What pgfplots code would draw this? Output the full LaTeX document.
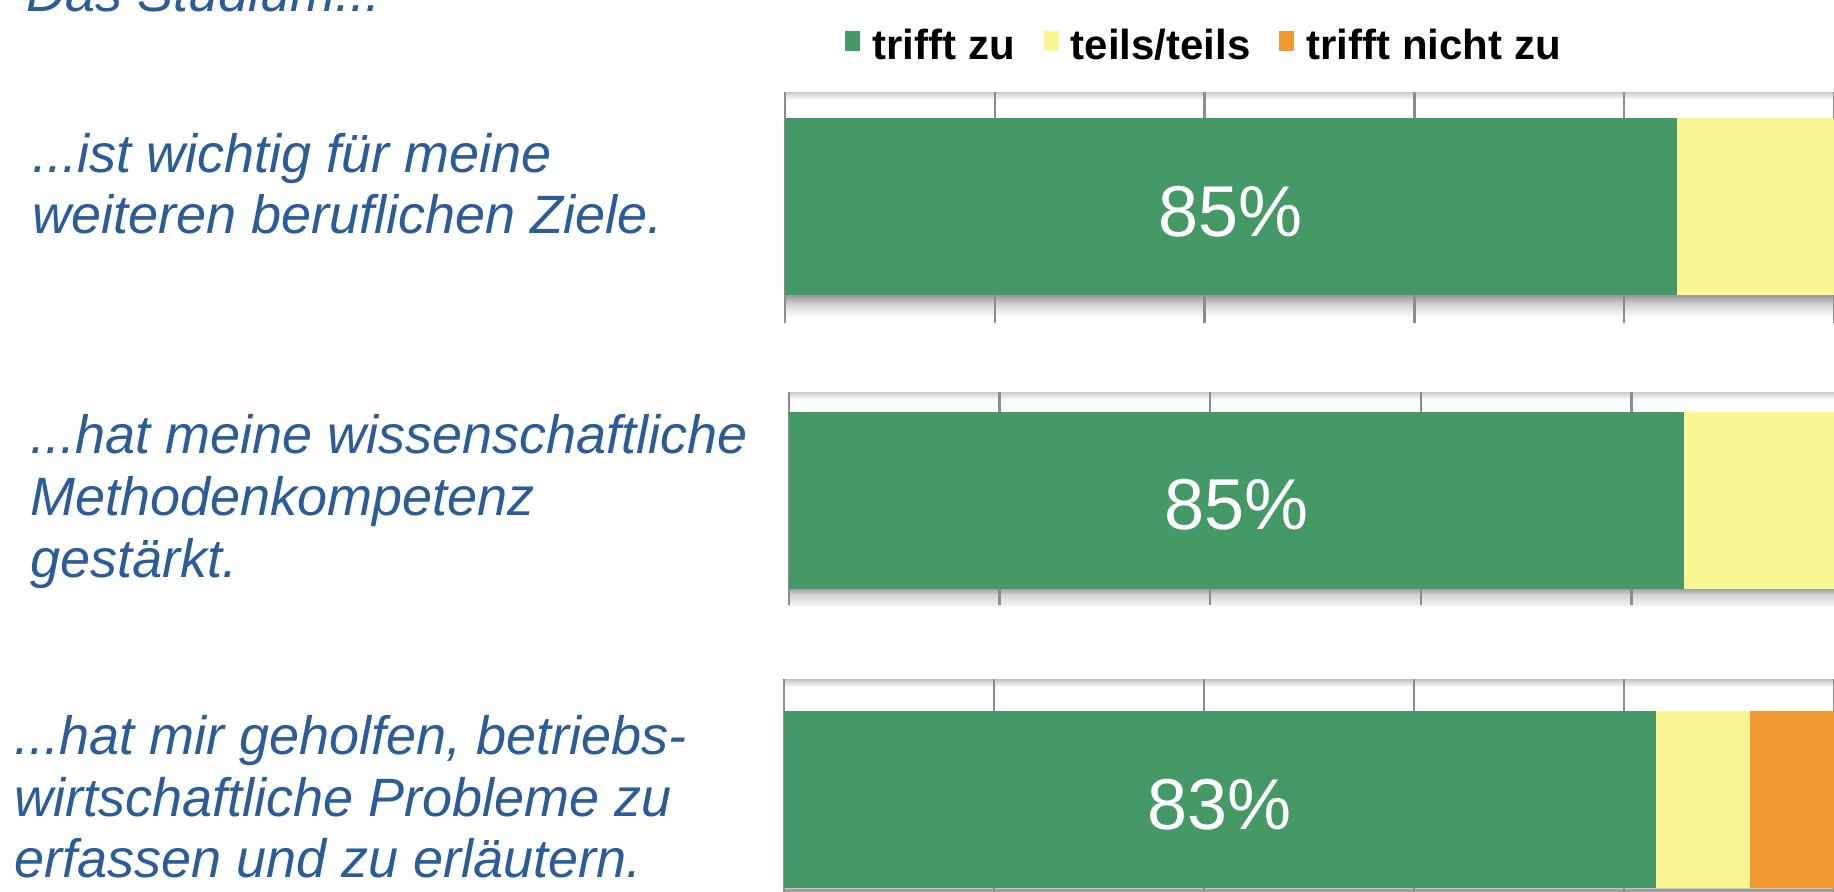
\documentclass[border=0pt]{standalone}
\usepackage{fontspec}
\setmainfont{Liberation Sans}
\usepackage{pgfplots}
\pgfplotsset{compat=1.18}
\definecolor{cgreen}{RGB}{69,153,102}
\definecolor{cyellow}{RGB}{250,246,148}
\definecolor{corange}{RGB}{243,154,51}
\definecolor{ctext}{RGB}{43,92,152}
\definecolor{gridgray}{RGB}{140,140,140}
\pgfdeclareverticalshading{panelA}{100bp}{color(0bp)=(white); color(26.3bp)=(white); color(28.9bp)=(black!16); color(31.06bp)=(black!40); color(31.6bp)=(white); color(73.27bp)=(white); color(75bp)=(black!20); color(100bp)=(black!20)}
\pgfdeclareverticalshading{panelB}{100bp}{color(0bp)=(black!5); color(25bp)=(black!5); color(27.35bp)=(black!16); color(28.99bp)=(black!40); color(29.5bp)=(white); color(73.12bp)=(white); color(75bp)=(black!20); color(100bp)=(black!20)}
\pgfdeclareverticalshading{panelC}{100bp}{color(0bp)=(white); color(26.77bp)=(white); color(29.26bp)=(black!16); color(31.34bp)=(black!40); color(31.8bp)=(white); color(73.34bp)=(white); color(75bp)=(black!24); color(100bp)=(black!24)}
\newcommand\lblfont{\fontsize{27bp}{31bp}\selectfont\itshape}
\newcommand\pctfont{\fontsize{36bp}{40bp}\selectfont}
\pgfplotsset{
  panel/.style={
    anchor=north west, scale only axis,
    xbar stacked, bar width=88.5bp,
    xmin=0, xmax=100,
    xtick={0,20,40,60,80,100}, xticklabels={}, ytick=\empty,
    xmajorgrids, grid style={draw=gridgray, line width=1.2bp},
    axis line style={draw=none}, major tick length=0pt,
    clip=true,
  },
  pct/.style={nodes near coords, point meta=explicit symbolic,
    every node near coord/.style={anchor=center, yshift=-2.5bp, text=white, font=\pctfont, inner sep=0pt}},
}
\begin{document}
\begin{tikzpicture}[x=0.5bp, y=-0.5bp]
\path[use as bounding box] (0,0) rectangle (1834,892);
\clip (0,0) rectangle (1834,892);

\tikzset{lbl/.style={anchor=base west, inner sep=0pt, font=\lblfont, text=ctext}}
\node[lbl] at (26,11) {Das Studium...};
\node[lbl] at (32,172) {...ist wichtig für meine};
\node[lbl] at (32,233) {weiteren beruflichen Ziele.};
\node[lbl] at (30,453) {...hat meine wissenschaftliche};
\node[lbl] at (30,515) {Methodenkompetenz};
\node[lbl] at (30,577) {gestärkt.};
\node[lbl] at (14,754) {...hat mir geholfen, betriebs-};
\node[lbl] at (14,816) {wirtschaftliche Probleme zu};
\node[lbl] at (14,877) {erfassen und zu erläutern.};

% Panel 1
\begin{axis}[panel, at={(392.5bp,-46bp)}, width=524.5bp, height=115.5bp,
  ymin=-116.5, ymax=114.5,
  axis background/.style={shading=panelA},
  legend columns=3,
  legend image code/.code={\fill[#1] (0bp,-3.5bp) rectangle (7.5bp,6.5bp);},
  legend style={at={(axis description cs:0.0572,1.208)}, anchor=west,
    draw=none, fill=none, inner sep=0pt,
    font=\fontsize{21bp}{25bp}\selectfont\bfseries,
    nodes={inner sep=0pt, text depth=0pt},
    /tikz/every odd column/.append style={column sep=6bp},
    /tikz/every even column/.append style={column sep=14.5bp}},
]
\addplot[fill=cgreen, draw=none, pct] coordinates {(85,0) [85\%]};
\addplot[fill=cyellow, draw=none] coordinates {(15,0)};
\addplot[fill=corange, draw=none] coordinates {(0,0)};
\legend{trifft zu, teils/teils, trifft nicht zu}
\end{axis}

% Panel 2
\begin{axis}[panel, at={(394.5bp,-196bp)}, width=526.5bp, height=106.5bp,
  ymin=-105, ymax=108,
  axis background/.style={shading=panelB},
]
\addplot[fill=cgreen, draw=none, pct] coordinates {(85,0) [85\%]};
\addplot[fill=cyellow, draw=none] coordinates {(15,0)};
\addplot[fill=corange, draw=none] coordinates {(0,0)};
\end{axis}

% Panel 3
\begin{axis}[panel, at={(392bp,-339.5bp)}, width=525bp, height=120.25bp,
  ymin=-120, ymax=120.5,
  axis background/.style={shading=panelC},
]
\addplot[fill=cgreen, draw=none, pct] coordinates {(83,0) [83\%]};
\addplot[fill=cyellow, draw=none] coordinates {(9,0)};
\addplot[fill=corange, draw=none] coordinates {(8,0)};
\end{axis}
\end{tikzpicture}
\end{document}
